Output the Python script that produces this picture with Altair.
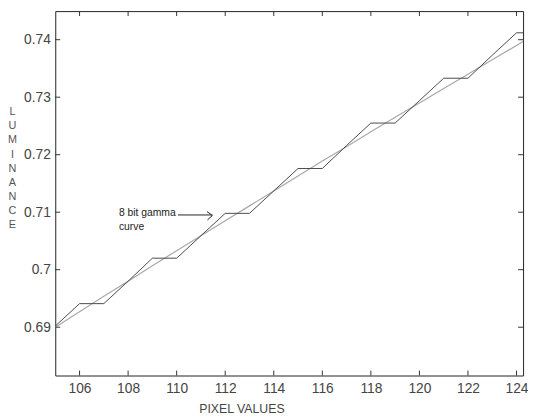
import altair as alt
import pandas as pd

pixel = [105, 106, 107, 108, 109, 110, 111, 112, 113, 114, 115, 116, 117,
         118, 119, 120, 121, 122, 123, 124, 124.27]
stair = [0.6902, 0.6941, 0.6941, 0.6980, 0.7020, 0.7020, 0.7059, 0.7098,
         0.7098, 0.7137, 0.7176, 0.7176, 0.7216, 0.7255, 0.7255, 0.7294,
         0.7333, 0.7333, 0.7373, 0.7412, 0.7412]
smooth = [0.6900, 0.6927, 0.6954, 0.6980, 0.7007, 0.7033, 0.7059, 0.7085,
          0.7111, 0.7137, 0.7163, 0.7189, 0.7214, 0.7240, 0.7265, 0.7290,
          0.7315, 0.7340, 0.7365, 0.7390, 0.7397]
x_ticks = [106, 108, 110, 112, 114, 116, 118, 120, 122, 124]
y_ticks = [0.69, 0.70, 0.71, 0.72, 0.73, 0.74]
x_domain = [105, 124.27]
y_domain = [0.6816, 0.74497]

# annotation (data units)
ann_text = ["8 bit gamma", "curve"]
ann_x = 107.62
ann_y = [0.70986, 0.70747]
arrow_x = [110.05, 111.47]
arrow_y = [0.70952, 0.70952]
head_x = [111.25, 111.47, 111.27]
head_y = [0.71012, 0.70943, 0.70866]

W, H = 475, 370

xs = alt.Scale(domain=x_domain, nice=False, zero=False)
ys = alt.Scale(domain=y_domain, nice=False, zero=False)

df = pd.DataFrame({"pixel": pixel, "stair": stair, "smooth": smooth})

font = "Liberation Sans"

smooth_line = alt.Chart(df).mark_line(color="#a8a8a8", strokeWidth=1.2).encode(
    x=alt.X("pixel:Q", scale=xs,
            axis=alt.Axis(values=x_ticks, ticks=False, domain=False, grid=False,
                          labelFontSize=14, labelColor="#444", labelFont=font,
                          labelPadding=6, title="PIXEL VALUES",
                          titleFont=font, titleFontSize=12.5, titleFontWeight="normal",
                          titleColor="#444", titleX=189, titleY=28,
                          titleAlign="center", titleBaseline="top")),
    y=alt.Y("smooth:Q", scale=ys,
            axis=alt.Axis(values=y_ticks, ticks=False, domain=False, grid=False,
                          labelFontSize=14, labelColor="#444", labelFont=font,
                          labelPadding=5,
                          labelExpr="datum.value == 0.7 ? '0.7' : format(datum.value, '.2f')",
                          title=list("LUMINANCE"), titleAngle=0,
                          titleFont=font, titleFontSize=11, titleFontWeight="normal",
                          titleColor="#555", titleX=-44, titleY=96,
                          titleAlign="center", titleBaseline="top",
                          titleLineHeight=14.4)),
)

stair_line = alt.Chart(df).mark_line(color="#4a4a4a", strokeWidth=1).encode(
    x=alt.X("pixel:Q", scale=xs),
    y=alt.Y("stair:Q", scale=ys),
)

xt = pd.DataFrame({"v": x_ticks})
yt = pd.DataFrame({"v": y_ticks})
tick_style = dict(color="#333", strokeWidth=1)
xb = alt.Chart(xt).mark_rule(**tick_style).encode(
    x=alt.X("v:Q", scale=xs), y=alt.value(H), y2=alt.value(H - 5))
xtp = alt.Chart(xt).mark_rule(**tick_style).encode(
    x=alt.X("v:Q", scale=xs), y=alt.value(0), y2=alt.value(5))
yl = alt.Chart(yt).mark_rule(**tick_style).encode(
    y=alt.Y("v:Q", scale=ys), x=alt.value(0), x2=alt.value(5))
yr = alt.Chart(yt).mark_rule(**tick_style).encode(
    y=alt.Y("v:Q", scale=ys), x=alt.value(W), x2=alt.value(W - 5))

ann_df = pd.DataFrame({"t": ann_text, "x": [ann_x, ann_x], "y": ann_y})
ann = alt.Chart(ann_df).mark_text(align="left", baseline="middle", font=font,
                                  fontSize=10.5, color="#222").encode(
    x=alt.X("x:Q", scale=xs), y=alt.Y("y:Q", scale=ys), text="t:N")

shaft = alt.Chart(pd.DataFrame({"x": arrow_x, "y": arrow_y})).mark_line(
    color="#222", strokeWidth=1).encode(
    x=alt.X("x:Q", scale=xs), y=alt.Y("y:Q", scale=ys))
head = alt.Chart(pd.DataFrame({"x": head_x, "y": head_y, "o": [0, 1, 2]})).mark_line(
    color="#222", strokeWidth=1).encode(
    x=alt.X("x:Q", scale=xs), y=alt.Y("y:Q", scale=ys), order="o:Q")

chart = alt.layer(smooth_line, stair_line, xb, xtp, yl, yr, ann, shaft, head).properties(
    width=W, height=H,
    autosize=alt.AutoSizeParams(type="none"),
    padding={"left": 48, "top": 0, "right": 5, "bottom": 41},
    background="white",
).configure_view(stroke="#222", strokeWidth=1)

chart.save("out.html", embed_options={"renderer": "svg", "actions": False})
